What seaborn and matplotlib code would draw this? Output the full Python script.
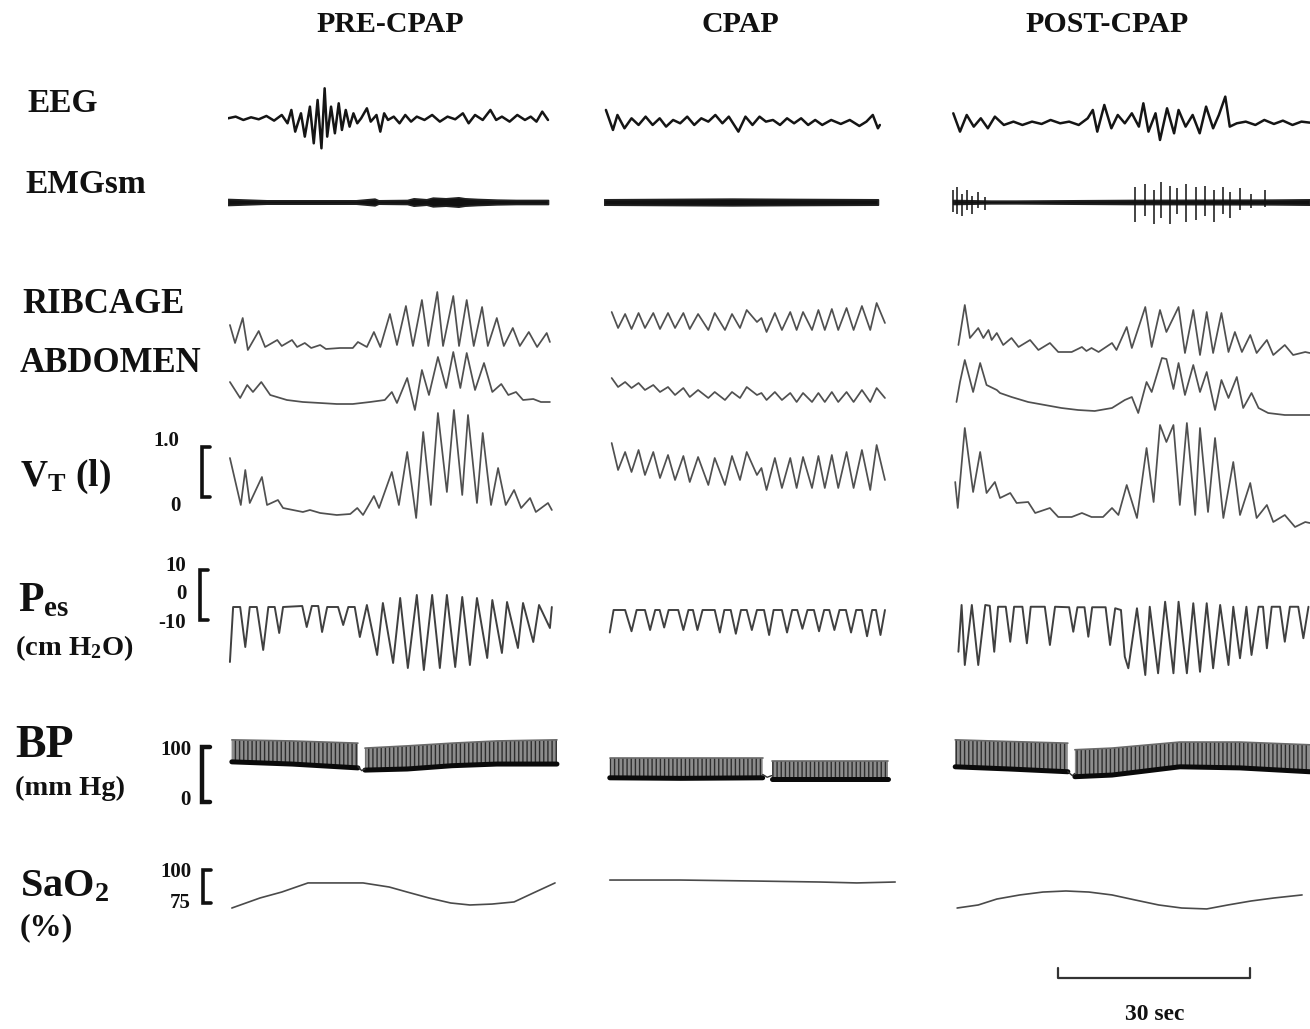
import matplotlib
matplotlib.use("Agg")
import matplotlib.pyplot as plt
import matplotlib.transforms as mtransforms
import seaborn as sns

sns.set_style("white")
plt.rcParams['font.family'] = ['Liberation Serif', 'DejaVu Serif']
plt.rcParams['mathtext.fontset'] = 'custom'
plt.rcParams['mathtext.rm'] = 'Liberation Serif:bold'
plt.rcParams['mathtext.it'] = 'Liberation Serif:bold'
plt.rcParams['mathtext.bf'] = 'Liberation Serif:bold'
plt.rcParams['hatch.linewidth'] = 1.0
plt.rcParams['hatch.color'] = '#2e2e2e'

# ------------------------------------------------------------------ data
columns = ["PRE-CPAP", "CPAP", "POST-CPAP"]

# EEG (a.u.)
eeg_pre_t = [0.0, 1.2, 2.4, 3.6, 4.8, 6.0, 7.2, 8.4, 9.3, 9.9, 10.5, 11.4, 12.0, 12.8, 13.4, 14.0, 14.6, 15.1,
             15.5, 16.1, 16.7, 17.3, 17.8, 18.4, 19.0, 19.6, 20.2, 20.8, 21.7, 22.3, 23.2, 23.8, 24.4, 25.0,
             25.9, 26.8, 27.7, 28.6, 29.5, 30.7, 31.9, 33.1, 34.3, 35.5, 36.7, 37.6, 38.6, 39.8, 41.0, 41.9,
             42.8, 44.0, 45.2, 46.4, 47.3, 48.2, 49.1, 50.0]
eeg_pre_v = [15, 20, 10, 18, 12, 22, 8, 25, 0, 40, -25, 30, -40, 50, -60, 70, -75, 105,
             -40, 50, -30, 60, -20, 40, -10, 30, 0, 15, 45, 5, 25, -25, 30, 10,
             20, 0, 25, 5, 20, 10, 25, 5, 20, 12, 30, 0, 25, 10, 40, 10,
             20, 5, 25, 10, 20, 5, 35, 10]
eeg_cpap_t = [0.3, 1.4, 2.1, 3.2, 4.3, 5.4, 6.5, 7.6, 8.7, 9.7, 10.8, 11.9, 13.0, 14.1, 15.2, 16.3, 17.4, 18.5,
              19.5, 21.0, 22.1, 23.2, 24.3, 25.3, 26.4, 27.5, 28.6, 29.7, 30.8, 31.9, 33.0, 34.1, 35.5, 37.0,
              38.4, 39.9, 41.0, 42.0, 42.8, 43.1]
eeg_cpap_v = [40, -20, 25, -15, 15, -5, 20, -5, 15, -10, 10, 0, 20, -5, 15, 5, 25, 0,
              20, -25, 20, -5, 20, 5, 10, -5, 15, 0, 15, -5, 10, -5, 10, -2,
              10, -8, 5, 25, -15, -5]
eeg_post_t = [0.2, 1.25, 2.3, 3.4, 4.5, 5.6, 6.7, 8.1, 9.6, 11.0, 12.5, 14.0, 15.4, 16.9, 18.3, 19.8, 21.2, 22.0,
              22.7, 23.8, 24.9, 25.9, 27.0, 28.1, 29.2, 29.9, 30.7, 31.8, 32.5, 33.6, 34.7, 35.4, 36.5, 37.6,
              38.7, 39.7, 40.8, 41.7, 42.7, 43.4, 44.5, 45.9, 47.4, 48.8, 50.3, 51.7, 53.2, 54.6, 55.9]
eeg_post_v = [30, -25, 25, -10, 15, -15, 20, -5, 5, -5, 5, -2, 10, 0, 5, -5, 15, 40,
              -25, 55, -15, 25, 0, 30, -10, 60, -25, 30, -50, 45, -30, 40, -10, 25,
              -30, 50, -15, 25, 80, -10, 0, 5, -5, 10, -2, 8, -5, 5, 2]

# EMGsm envelope half-width (a.u.) and spikes
emg_pre_t = [0, 3, 6, 20, 22.9, 23.5, 28, 29, 31, 32, 34, 36, 37, 39, 42, 45, 50]
emg_pre_amp = [9, 7, 5, 5, 10, 5, 6, 11, 8, 13, 11, 14, 11, 9, 7, 6, 6]
emg_cpap_t = [0, 10, 20, 30, 42.8]
emg_cpap_amp = [8, 9, 10, 9, 8]
emg_post_t = [0.2, 6, 10, 28, 50, 55.9]
emg_post_amp = [6, 4, 4, 6, 7, 8]
emg_post_spike_t = [0.2, 0.8, 1.6, 2.3, 3.1, 4.1, 5.2, 28.6, 30.2, 31.6, 32.7, 34.1, 35.2, 36.6, 38.1, 39.5,
                    40.9, 42.3, 43.4, 45.0, 46.7, 48.9]
emg_post_spike_up = [36, 45, 24, 36, 18, 30, 15, 45, 54, 36, 60, 48, 42, 54, 45, 48, 36, 45, 30, 42, 24, 36]
emg_post_spike_down = [30, 36, 42, 24, 36, 18, 24, 60, 42, 66, 48, 66, 36, 60, 54, 42, 60, 36, 48, 24, 18, 15]

# RIBCAGE / ABDOMEN (a.u.), VT (l)
rib_pre_t = [0.3, 1.1, 2.3, 3.1, 4.8, 5.8, 7.7, 8.4, 10.0, 10.8, 12.0, 13.0, 14.4, 15.3, 17.5, 19.5, 20.3, 21.7,
             22.8, 23.8, 25.3, 26.4, 27.8, 28.9, 30.3, 31.3, 32.7, 33.6, 35.2, 36.1, 37.3, 38.4, 39.7, 40.6,
             42.0, 43.1, 44.5, 45.6, 47.0, 48.3, 49.8, 50.3]
rib_pre_v = [0.50, 0.14, 0.64, 0.00, 0.38, 0.06, 0.20, 0.08, 0.20, 0.06, 0.14, 0.04, 0.10, 0.02, 0.04, 0.04,
             0.16, 0.06, 0.36, 0.06, 0.72, 0.10, 0.88, 0.08, 1.00, 0.08, 1.16, 0.08, 1.08, 0.08, 1.00, 0.08,
             0.86, 0.08, 0.64, 0.08, 0.44, 0.08, 0.36, 0.06, 0.34, 0.16]
abd_pre_t = [0.3, 1.9, 3.0, 3.9, 5.2, 6.6, 9.2, 11.7, 14.4, 17.0, 19.5, 22.2, 24.5, 25.6, 26.4, 28.0, 29.2,
             30.3, 31.4, 32.8, 34.1, 35.2, 36.3, 37.3, 38.6, 40.0, 41.3, 42.7, 43.8, 45.0, 46.1, 47.7, 48.9, 50.3]
abd_pre_v = [0.42, 0.10, 0.36, 0.22, 0.42, 0.16, 0.06, 0.02, 0.00, -0.02, -0.02, 0.02, 0.06, 0.22, 0.00, 0.50,
             -0.14, 0.66, 0.16, 0.92, 0.30, 1.02, 0.30, 1.00, 0.26, 0.80, 0.22, 0.38, 0.16, 0.22, 0.06, 0.08,
             0.02, 0.02]
vt_pre_t = [0.3, 2.0, 2.7, 3.4, 5.3, 6.1, 7.8, 8.6, 11.7, 12.8, 14.4, 17.0, 19.1, 20.2, 21.1, 22.8, 23.6, 25.6,
            26.7, 28.0, 29.4, 30.5, 31.7, 32.8, 34.2, 35.3, 36.6, 37.5, 38.9, 39.8, 41.1, 42.2, 43.4, 44.7,
            45.8, 47.2, 48.1, 50.0, 50.6]
vt_pre_v = [0.78, -0.16, 0.54, -0.12, 0.40, -0.16, -0.06, -0.22, -0.30, -0.26, -0.32, -0.36, -0.34, -0.22,
            -0.36, 0.02, -0.22, 0.50, -0.16, 0.90, -0.42, 1.30, -0.16, 1.68, 0.10, 1.74, 0.04, 1.64, -0.12,
            1.28, -0.16, 0.58, -0.16, 0.14, -0.22, -0.02, -0.30, -0.12, -0.26]

cpap_breath_t = [1.2, 2.2, 3.3, 4.3, 5.4, 6.4, 7.7, 8.75, 10.0, 11.1, 12.4, 13.4, 14.7, 16.3, 17.3, 18.9, 20.0,
                 21.25, 22.3, 23.9, 24.6, 25.4, 26.7, 27.8, 29.1, 30.1, 31.1, 32.5, 33.5, 34.5, 35.6, 36.6,
                 37.9, 39.0, 40.3, 41.6, 42.6, 43.9]
rib_cpap_v = [0.76, 0.44, 0.72, 0.42, 0.74, 0.44, 0.74, 0.42, 0.74, 0.44, 0.74, 0.42, 0.72, 0.40, 0.74, 0.40,
              0.72, 0.44, 0.80, 0.56, 0.64, 0.36, 0.74, 0.40, 0.76, 0.40, 0.76, 0.40, 0.80, 0.40, 0.82, 0.40,
              0.84, 0.40, 0.88, 0.40, 0.94, 0.54]
abd_cpap_v = [0.50, 0.32, 0.42, 0.30, 0.40, 0.26, 0.36, 0.22, 0.32, 0.16, 0.30, 0.12, 0.26, 0.10, 0.22, 0.06,
              0.22, 0.10, 0.32, 0.16, 0.20, 0.06, 0.22, 0.06, 0.20, 0.02, 0.20, 0.02, 0.20, 0.02, 0.22, 0.02,
              0.22, 0.02, 0.26, 0.02, 0.30, 0.10]
vt_cpap_v = [1.08, 0.54, 0.90, 0.50, 0.94, 0.44, 0.90, 0.38, 0.84, 0.34, 0.82, 0.30, 0.80, 0.24, 0.78, 0.24,
             0.82, 0.34, 0.90, 0.44, 0.58, 0.14, 0.78, 0.18, 0.78, 0.18, 0.80, 0.18, 0.82, 0.18, 0.84, 0.18,
             0.90, 0.18, 0.94, 0.14, 1.04, 0.34]

rib_post_t = [1.0, 2.0, 2.8, 4.1, 4.9, 5.7, 6.2, 7.0, 8.0, 9.3, 10.4, 12.2, 13.5, 15.3, 16.6, 18.7, 20.3, 21.0,
              21.8, 22.9, 25.0, 25.7, 27.3, 28.1, 30.2, 31.2, 32.5, 33.5, 35.4, 36.4, 37.7, 38.75, 39.8, 40.8,
              42.1, 43.2, 44.2, 45.3, 46.6, 47.6, 49.2, 50.2, 52.0, 53.3, 55.2, 55.9]
rib_post_v = [0.10, 0.90, 0.24, 0.44, 0.24, 0.40, 0.20, 0.34, 0.10, 0.24, 0.06, 0.20, 0.00, 0.14, -0.04, -0.04,
              0.06, -0.02, 0.04, -0.04, 0.14, 0.00, 0.46, 0.04, 0.86, 0.06, 0.80, 0.36, 0.86, -0.06, 0.80,
              -0.10, 0.76, -0.06, 0.74, -0.04, 0.36, -0.04, 0.30, -0.06, 0.20, -0.10, 0.10, -0.10, -0.04, -0.06]
abd_post_t = [0.7, 1.25, 2.0, 3.3, 4.4, 5.4, 7.0, 7.5, 9.3, 11.9, 14.5, 17.1, 19.7, 22.3, 25.0, 27.0, 28.1, 29.1,
              30.4, 31.2, 32.8, 33.5, 34.6, 35.4, 36.4, 37.7, 38.75, 39.8, 41.1, 42.1, 43.2, 44.5, 45.5, 46.8,
              47.9, 49.4, 52.0, 55.9]
abd_post_v = [0.02, 0.42, 0.86, 0.22, 0.80, 0.36, 0.26, 0.20, 0.12, 0.02, -0.04, -0.10, -0.14, -0.16, -0.10,
              0.06, 0.12, -0.20, 0.42, 0.22, 0.90, 0.88, 0.28, 0.80, 0.16, 0.76, 0.22, 0.62, -0.14, 0.46, 0.10,
              0.52, -0.10, 0.20, -0.10, -0.20, -0.24, -0.24]
vt_post_t = [0.5, 0.9, 2.0, 3.3, 4.4, 5.4, 6.7, 7.5, 9.1, 10.1, 11.9, 13.0, 15.3, 16.6, 18.7, 20.3, 21.8, 23.6,
             25.0, 26.0, 27.3, 28.9, 30.4, 31.5, 32.5, 33.5, 34.6, 35.6, 36.7, 38.0, 38.75, 40.0, 41.1, 42.4,
             43.95, 45.0, 46.6, 47.6, 49.2, 50.2, 52.0, 53.6, 55.2, 55.9]
vt_post_v = [0.30, -0.22, 1.38, 0.10, 0.90, 0.08, 0.30, -0.02, 0.08, -0.12, -0.10, -0.32, -0.22, -0.40, -0.40,
             -0.32, -0.40, -0.40, -0.22, -0.36, 0.24, -0.42, 0.98, -0.10, 1.44, 1.10, 1.44, -0.16, 1.48, -0.36,
             1.38, -0.30, 1.18, -0.42, 0.70, -0.36, 0.28, -0.42, -0.16, -0.50, -0.36, -0.60, -0.50, -0.52]

# Pes (cm H2O)
pes_pre_t = [0.3, 0.8, 1.9, 2.7, 3.4, 4.5, 5.5, 6.3, 7.3, 8.0, 8.6, 11.6, 12.3, 13.1, 14.1, 14.7, 15.5, 17.2,
             18.0, 18.8, 19.8, 20.6, 21.7, 23.3, 24.2, 25.8, 26.9, 28.1, 29.5, 30.6, 31.9, 33.1, 34.2, 35.5,
             36.6, 37.8, 38.9, 40.5, 41.3, 42.8, 43.6, 45.3, 46.1, 47.7, 48.6, 50.3, 50.6]
pes_pre_v = [-26.8, -4.8, -4.8, -20.8, -4.8, -4.8, -22.0, -4.8, -4.8, -15.2, -4.8, -4.4, -12.8, -4.4, -4.4,
             -14.8, -4.8, -4.8, -12.0, -4.8, -4.8, -16.8, -4.0, -24.0, -3.2, -27.2, -1.2, -29.2, 0.0, -30.0,
             0.0, -29.2, 0.0, -28.8, -0.8, -28.0, -1.2, -25.2, -2.0, -23.2, -2.8, -21.2, -3.2, -18.8, -4.0,
             -13.2, -4.8]
pes_cpap_t = [0.9, 1.5, 3.3, 4.3, 5.1, 6.4, 7.2, 8.0, 8.7, 9.4, 10.1, 11.6, 12.4, 13.2, 13.9, 14.6, 15.4, 17.3,
              18.1, 18.8, 19.8, 20.6, 21.4, 22.3, 23.1, 23.9, 25.0, 25.8, 26.5, 27.8, 28.6, 29.4, 30.2, 31.0,
              31.8, 32.8, 33.6, 34.4, 35.2, 36.0, 36.8, 37.8, 38.6, 39.4, 40.3, 41.1, 41.9, 42.5, 43.2, 43.9]
pes_cpap_v = [-15, -6, -6, -14.5, -6, -6, -14, -6, -6, -13, -6, -6, -14, -6, -6, -14, -6, -6, -15, -6, -6,
              -15.5, -6, -6, -14, -6, -6, -16, -6, -6, -15, -6, -6, -13.5, -6, -6, -14.5, -6, -6, -14, -6, -6,
              -15, -6, -6, -16.5, -6, -6, -16, -6]
pes_post_t = [1.0, 1.5, 2.0, 3.1, 4.1, 5.2, 5.9, 6.6, 7.2, 8.4, 9.1, 9.7, 11.0, 11.7, 12.3, 14.5, 15.3, 16.1,
              18.3, 18.95, 19.6, 20.7, 21.3, 21.9, 24.0, 24.7, 25.5, 26.4, 27.0, 27.55, 28.9, 30.2, 30.9, 32.2,
              33.3, 34.6, 35.4, 36.7, 37.7, 38.75, 39.8, 40.8, 41.9, 43.2, 43.95, 45.0, 46.0, 46.8, 47.9, 48.6,
              49.2, 49.95, 51.25, 52.0, 52.8, 54.1, 54.9, 55.7]
pes_post_v = [-22.7, -4.0, -28.0, -4.0, -28.0, -4.0, -4.3, -22.7, -4.7, -4.7, -18.7, -4.7, -4.7, -19.3, -4.7,
              -4.7, -20.0, -4.7, -4.9, -14.7, -4.9, -4.9, -16.7, -4.9, -4.9, -20.0, -5.3, -6.0, -24.7, -29.3,
              -5.3, -32.0, -4.7, -31.3, -2.7, -31.3, -2.7, -31.3, -3.3, -30.7, -3.3, -29.3, -4.0, -28.0, -4.7,
              -25.3, -4.7, -24.0, -4.7, -4.7, -21.3, -4.7, -4.7, -18.7, -4.7, -4.7, -17.3, -4.7]

# BP (mm Hg): envelope of systolic / diastolic per recording segment
bp_pre_segments = [
    ([0.6, 10.0, 20.3], [113, 111, 107], [73, 69, 62]),
    ([21.4, 28.0, 35.0, 42.0, 51.4], [98, 102, 107, 111, 113], [58, 60, 66, 69, 69]),
]
bp_pre_gap_t, bp_pre_gap_v = [20.3, 20.9, 21.4], [64, 57, 60]
bp_cpap_segments = [
    ([0.9, 12.0, 24.8], [80, 80, 80], [44, 43, 44]),
    ([26.2, 35.0, 44.4], [74, 74, 74], [41, 41, 41]),
]
bp_cpap_gap_t, bp_cpap_gap_v = [24.8, 25.5, 26.2], [50, 45, 48]
bp_post_segments = [
    ([0.5, 9.0, 18.1], [113, 110, 107], [64, 60, 55]),
    ([19.2, 25.0, 35.6, 45.0, 55.9], [95, 98, 109, 109, 104], [46, 49, 64, 62, 55]),
]
bp_post_gap_t, bp_post_gap_v = [18.1, 18.8, 19.2], [55, 48, 52]

# SaO2 (%)
sao2_pre_t = [0.6, 5.0, 8.4, 12.5, 16.6, 21.1, 25.2, 28.0, 31.4, 34.8, 37.8, 41.25, 44.7, 47.7, 51.1]
sao2_pre_v = [71.2, 78.8, 83.3, 90.2, 90.2, 90.2, 87.1, 83.3, 78.8, 75.0, 73.5, 74.2, 75.8, 82.6, 90.2]
sao2_cpap_t = [0.9, 11.9, 22.8, 33.75, 39.5, 45.5]
sao2_cpap_v = [92.4, 92.4, 91.7, 90.9, 90.2, 90.9]
sao2_post_t = [0.8, 4.1, 7.0, 10.6, 14.2, 17.8, 21.4, 25.0, 28.6, 32.3, 35.9, 39.8, 43.1, 46.7, 50.3, 54.7]
sao2_post_v = [71.2, 73.5, 78.0, 81.1, 83.3, 84.1, 83.3, 81.1, 77.3, 73.5, 71.2, 70.5, 73.5, 76.5, 78.8, 81.1]

# ------------------------------------------------------------------ layout
W, H = 1310, 1029
PX_PER_S = 6.4
COL_X0 = {"pre": 228, "cpap": 604, "post": 952}
COL_W = {"pre": 335, "cpap": 300, "post": 358}
# row: (pixel of value 0, pixels per unit, top px, bottom px)
ROWS = {
    "eeg": (123.3, 1 / 3, 65, 178),
    "emg": (202, 1 / 3, 168, 236),
    "rib": (350, 50, 280, 365),
    "abd": (403, 50, 340, 425),
    "vt": (497, 50, 400, 537),
    "pes": (595, 2.5, 560, 692),
    "bp": (802, 0.55, 720, 810),
    "sao2": (1002, 1.32, 858, 925),
}

fig = plt.figure(figsize=(W / 100, H / 100), dpi=100)
fig.patch.set_facecolor("white")
ov = fig.add_axes([0, 0, 1, 1])
ov.set_xlim(0, W)
ov.set_ylim(H, 0)
ov.set_axis_off()

AXES = {}


def cell(col, row):
    x0, w = COL_X0[col], COL_W[col]
    y0, k, top, bot = ROWS[row]
    ax = fig.add_axes([x0 / W, 1 - bot / H, w / W, (bot - top) / H])
    ax.set_axis_off()
    ax.patch.set_alpha(0)
    AXES[(col, row)] = ax
    return ax


def finish(ax, col, row):
    y0, k, top, bot = ROWS[row]
    ax.set_xlim(0, COL_W[col] / PX_PER_S)
    ax.set_ylim((y0 - bot) / k, (y0 - top) / k)


def trace(col, row, t, v, color, lw):
    ax = cell(col, row)
    sns.lineplot(x=t, y=v, ax=ax, color=color, linewidth=lw, sort=False, estimator=None,
                 solid_joinstyle="round")
    finish(ax, col, row)
    return ax


# EEG
for col, t, v in [("pre", eeg_pre_t, eeg_pre_v), ("cpap", eeg_cpap_t, eeg_cpap_v),
                  ("post", eeg_post_t, eeg_post_v)]:
    trace(col, "eeg", t, v, "#151515", 1.8)

# EMG
for col, t, a in [("pre", emg_pre_t, emg_pre_amp), ("cpap", emg_cpap_t, emg_cpap_amp),
                  ("post", emg_post_t, emg_post_amp)]:
    ax = cell(col, "emg")
    ax.fill_between(t, [-x for x in a], a, color="#111111", linewidth=1.2, edgecolor="#222222")
    if col == "post":
        ax.vlines(emg_post_spike_t, [-d for d in emg_post_spike_down], emg_post_spike_up,
                  color="#111111", linewidth=1.1)
    finish(ax, col, "emg")

# respiratory traces
RESP = "#505050"
trace("pre", "rib", rib_pre_t, rib_pre_v, RESP, 1.25)
trace("pre", "abd", abd_pre_t, abd_pre_v, RESP, 1.25)
trace("pre", "vt", vt_pre_t, vt_pre_v, RESP, 1.25)
trace("cpap", "rib", cpap_breath_t, rib_cpap_v, RESP, 1.25)
trace("cpap", "abd", cpap_breath_t, abd_cpap_v, RESP, 1.25)
trace("cpap", "vt", cpap_breath_t, vt_cpap_v, RESP, 1.25)
trace("post", "rib", rib_post_t, rib_post_v, RESP, 1.25)
trace("post", "abd", abd_post_t, abd_post_v, RESP, 1.25)
trace("post", "vt", vt_post_t, vt_post_v, RESP, 1.25)

trace("pre", "pes", pes_pre_t, pes_pre_v, "#404040", 1.4)
trace("cpap", "pes", pes_cpap_t, pes_cpap_v, "#404040", 1.4)
trace("post", "pes", pes_post_t, pes_post_v, "#404040", 1.4)

# BP
for col, segs, gt, gv in [("pre", bp_pre_segments, bp_pre_gap_t, bp_pre_gap_v),
                          ("cpap", bp_cpap_segments, bp_cpap_gap_t, bp_cpap_gap_v),
                          ("post", bp_post_segments, bp_post_gap_t, bp_post_gap_v)]:
    ax = cell(col, "bp")
    for t, sys_v, dia_v in segs:
        ax.fill_between(t, dia_v, sys_v, facecolor="#8c8c8c", edgecolor="#2e2e2e",
                        hatch="||||", linewidth=0)
        sns.lineplot(x=t, y=sys_v, ax=ax, color="#6a6a6a", linewidth=1.2, sort=False, estimator=None)
        sns.lineplot(x=t, y=dia_v, ax=ax, color="#0a0a0a", linewidth=3.6, sort=False, estimator=None)
    sns.lineplot(x=gt, y=gv, ax=ax, color="#333333", linewidth=1.0, sort=False, estimator=None)
    finish(ax, col, "bp")

# SaO2
trace("pre", "sao2", sao2_pre_t, sao2_pre_v, "#4a4a4a", 1.2)
trace("cpap", "sao2", sao2_cpap_t, sao2_cpap_v, "#4a4a4a", 1.2)
trace("post", "sao2", sao2_post_t, sao2_post_v, "#4a4a4a", 1.2)

# ------------------------------------------------------------------ text
TXT = "#111111"


def label(x, y, s, size, ha="left", va="baseline"):
    ov.text(x, y, s, fontsize=size, fontweight="bold", ha=ha, va=va, color=TXT)


label(390, 25, columns[0], 21.5, ha="center", va="center")
label(740, 25, columns[1], 21.5, ha="center", va="center")
label(1107, 25, columns[2], 21.5, ha="center", va="center")

label(27, 112, "EEG", 24)
label(25, 193, "EMGsm", 24)
label(22, 313, "RIBCAGE", 25)
label(20, 372, "ABDOMEN", 25)
label(20, 486, r"V$_\mathrm{T}$ (l)", 27)
label(18, 611, r"P$_\mathrm{es}$", 30)
label(15, 655, r"(cm H$_\mathrm{2}$O)", 20.5)
label(15, 757, "BP", 33)
label(15, 795, "(mm Hg)", 20.5)
label(20, 896, r"SaO$_\mathrm{2}$", 29)
label(20, 935, "(%)", 23)

# calibration brackets (x in page pixels, y in each signal's own units)
def bracket(row, x, lo, hi, lw):
    ax = AXES[("pre", row)]
    tr = mtransforms.blended_transform_factory(ov.transData, ax.transData)
    ov.plot([x + 8, x, x, x + 8], [hi, hi, lo, lo], transform=tr, color=TXT,
            linewidth=lw, clip_on=False, solid_joinstyle="miter")


bracket("vt", 202, 0, 1.0, 2.6)
bracket("pes", 200, -10, 10, 2.6)
bracket("bp", 202, 0, 100, 3.2)
bracket("sao2", 203, 75, 100, 2.6)

NUM = 15
label(179, 441, "1.0", NUM, ha="right", va="center")
label(181, 506, "0", NUM, ha="right", va="center")
label(186, 566, "10", NUM, ha="right", va="center")
label(187, 594, "0", NUM, ha="right", va="center")
label(186, 623, "-10", NUM, ha="right", va="center")
label(191, 750, "100", NUM, ha="right", va="center")
label(191, 800, "0", NUM, ha="right", va="center")
label(191, 872, "100", NUM, ha="right", va="center")
label(191, 903, "75", NUM, ha="right", va="center")

# 30-s time scale bar, drawn on the POST-CPAP time axis
scale_t0, scale_len = 16.6, 30
axp = AXES[("post", "sao2")]
trs = mtransforms.blended_transform_factory(axp.transData, ov.transData)
ov.plot([scale_t0, scale_t0, scale_t0 + scale_len, scale_t0 + scale_len], [968, 978, 978, 968],
        transform=trs, color="#333333", linewidth=1.6, clip_on=False)
ov.text(scale_t0 + scale_len / 2, 1015, "30 sec", transform=trs, fontsize=17, fontweight="bold",
        ha="center", va="center", color=TXT)

fig.savefig("out.png", dpi=100, facecolor="white")
